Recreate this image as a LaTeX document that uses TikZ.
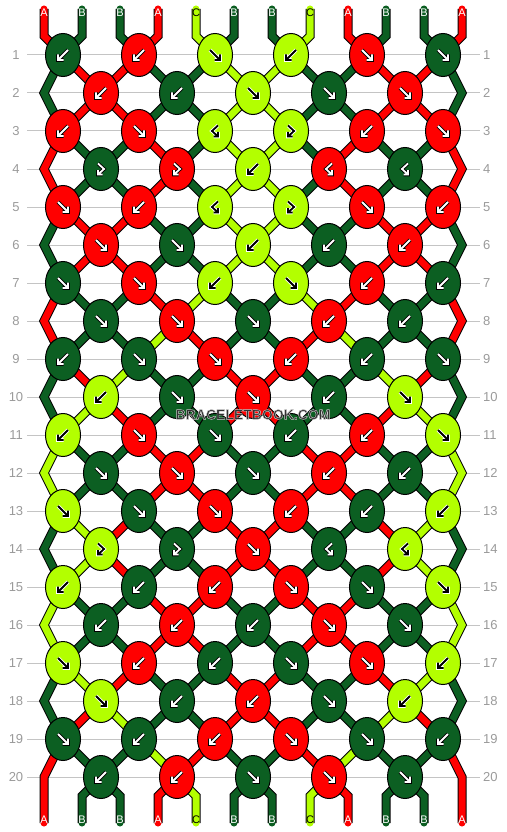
\documentclass[tikz,border=0pt]{standalone}
\usepackage{fontspec}
\setmainfont{Liberation Sans}
\usetikzlibrary{shapes.geometric,backgrounds}

\definecolor{strA}{HTML}{FF0000}
\definecolor{strB}{HTML}{0C5F22}
\definecolor{strC}{HTML}{B3FF00}
\colorlet{inkA}{white}\colorlet{inkB}{white}\colorlet{inkC}{black}
\colorlet{rimA}{black}\colorlet{rimB}{black}\colorlet{rimC}{white}
\definecolor{rowgray}{HTML}{9A9A9A}
\definecolor{linegray}{HTML}{C4C4C4}
\definecolor{wmgray}{HTML}{303030}

\tikzset{
    knot/.style={
        shape=ellipse,
        draw=black,
        line width=1pt,
        minimum width=35pt,
        minimum height=43pt,
        inner sep=0pt
    },
    thread/.style={
        draw=#1,
        line width=7pt,
        line cap=round,
        preaction={draw=black, line width=9pt}
    },
    gridline/.style={draw=linegray, line width=1pt},
    rownum/.style={text=rowgray, inner sep=0pt, font=\fontsize{13}{15}\selectfont},
    endlabel/.style={inner sep=0pt, font=\fontsize{11}{13}\selectfont},
    wmark/.style={inner sep=0pt, font=\fontsize{14}{16}\selectfont\bfseries}
}

% light rim round the watermark letters (fill, then stroke)
\newcommand\rimtext[1]{%
  \special{pdf:literal direct 2 Tr 0.45 w 0.8 G}#1\special{pdf:literal direct 0 Tr}}

% arrow on a knot: 1 forward, 2 backward, 3 forward-backward, 4 backward-forward
\newcommand\knotglyph[4]{%
  \foreach \w/\ink in {3.6/#4,1.8/#3}{%
    \begin{scope}[shift={(#1)}, line width=\w pt, draw=\ink]
      \ifcase#2\or
        \draw (-5,-5) -- (5,5) (5,-0.5) -- (5,5) -- (-0.5,5);
      \or
        \draw (5,-5) -- (-5,5) (-5,-0.5) -- (-5,5) -- (0.5,5);
      \or
        \draw (-3,-5.5) -- (3,0) -- (-3,5.5) (1.5,5.5) -- (-3,5.5) -- (-3,1);
      \or
        \draw (3,-5.5) -- (-3,0) -- (3,5.5) (-1.5,5.5) -- (3,5.5) -- (3,1);
      \fi
    \end{scope}}}

\begin{document}
\begin{tikzpicture}[x=1pt, y=-1pt]
    \useasboundingbox (0,0) rectangle (506,832);

    % rows of knots
    \foreach \r/\row in {
        1/{B/2,A/2,C/1,C/2,A/1,B/1},
        2/{A/2,B/2,C/1,B/1,A/1},
        3/{A/2,A/1,C/4,C/3,A/2,A/1},
        4/{B/3,A/3,C/2,A/4,B/4},
        5/{A/1,A/2,C/4,C/3,A/1,A/2},
        6/{A/1,B/1,C/2,B/2,A/2},
        7/{B/1,A/1,C/2,C/1,A/2,B/2},
        8/{B/1,A/1,B/1,A/2,B/2},
        9/{B/2,B/1,A/1,A/2,B/2,B/1},
        10/{C/2,B/1,A/1,B/2,C/1},
        11/{C/2,A/1,B/1,B/2,A/2,C/1},
        12/{B/1,A/1,B/1,A/2,B/2},
        13/{C/1,B/1,A/1,A/2,B/2,C/2},
        14/{C/3,B/3,A/1,B/4,C/4},
        15/{C/2,B/2,A/2,A/1,B/1,C/1},
        16/{B/2,A/2,B/2,A/1,B/1},
        17/{C/1,A/2,B/2,B/1,A/1,C/2},
        18/{C/1,B/2,A/2,B/1,C/2},
        19/{B/1,B/2,A/2,A/1,B/1,B/2},
        20/{B/2,A/2,B/1,A/1,B/1}} {
        \ifodd\r\relax \def\xo{63}\else \def\xo{101}\fi
        \foreach \c/\t [count=\i] in \row {
            \node[knot, fill=str\c] (k\r-\i) at ({\xo+76*(\i-1)}, {55+38*(\r-1)}) {};
            \knotglyph{k\r-\i}{\t}{ink\c}{rim\c}
        }
        \node[rownum] (rl\r) at (16, {55+38*(\r-1)}) {\r};
        \node[rownum, anchor=west] (rr\r) at (483, {55+38*(\r-1)}) {\r};
    }

    % outer bends and thread ends
    \foreach \r in {2,4,...,20} {
        \coordinate (eL\r) at (44, {55+38*(\r-1)});
        \coordinate (eR\r) at (462, {55+38*(\r-1)});
    }
    \foreach \p in {1,...,12} {
        \coordinate (t\p) at ({44+38*(\p-1)}, 9);
        \coordinate (u\p) at ({44+38*(\p-1)}, 36);
        \coordinate (v\p) at ({44+38*(\p-1)}, 796);
        \coordinate (b\p) at ({44+38*(\p-1)}, 823);
    }

    \begin{pgfonlayer}{background}
        \foreach \r in {1,...,20}
            \draw[gridline] (27, {55+38*(\r-1)}) -- (480, {55+38*(\r-1)});

        % threads entering the first row
        \foreach \c [count=\p] in {A,B,B,A,C,B,B,C,A,B,B,A} {
            \pgfmathtruncatemacro\io{(\p+1)/2}
            \draw[thread=str\c] (t\p) -- (u\p) -- (k1-\io.center);
        }

        % threads between rows
        \foreach \r/\st in {
            1/{B,A,A,B,B,C,C,B,B,A,A,B},
            2/{B,A,A,B,B,C,C,B,B,A,A,B},
            3/{A,B,B,A,B,C,C,B,A,B,B,A},
            4/{A,B,B,A,B,C,C,B,A,B,B,A},
            5/{B,A,A,B,B,C,C,B,B,A,A,B},
            6/{B,A,A,B,B,C,C,B,B,A,A,B},
            7/{A,B,B,A,C,B,B,C,A,B,B,A},
            8/{A,B,B,C,A,B,B,A,C,B,B,A},
            9/{B,A,C,B,B,A,A,B,B,C,A,B},
            10/{B,C,A,B,B,A,A,B,B,A,C,B},
            11/{C,B,B,A,A,B,B,A,A,B,B,C},
            12/{C,B,B,A,A,B,B,A,A,B,B,C},
            13/{B,C,A,B,B,A,A,B,B,A,C,B},
            14/{B,C,A,B,B,A,A,B,B,A,C,B},
            15/{C,B,B,A,A,B,B,A,A,B,B,C},
            16/{C,B,B,A,A,B,B,A,A,B,B,C},
            17/{B,C,A,B,B,A,A,B,B,A,C,B},
            18/{B,A,C,B,B,A,A,B,B,C,A,B},
            19/{A,B,B,C,A,B,B,A,C,B,B,A}} {
            \pgfmathtruncatemacro\rn{\r+1}
            \pgfmathtruncatemacro\rnn{\r+2}
            \foreach \c [count=\p] in \st {
                \pgfmathtruncatemacro\io{(\p+1)/2}
                \pgfmathtruncatemacro\ie{\p/2}
                \ifnum\p=1\relax
                    \ifodd\r\relax
                        \ifnum\r<19\relax
                            \draw[thread=str\c] (k\r-1.center) -- (eL\rn) -- (k\rnn-1.center);
                        \else
                            \draw[thread=str\c] (k\r-1.center) -- (eL\rn) -- (b1);
                        \fi
                    \fi
                \else\ifnum\p=12\relax
                    \ifodd\r\relax
                        \ifnum\r<19\relax
                            \draw[thread=str\c] (k\r-6.center) -- (eR\rn) -- (k\rnn-6.center);
                        \else
                            \draw[thread=str\c] (k\r-6.center) -- (eR\rn) -- (b12);
                        \fi
                    \fi
                \else
                    \ifodd\r\relax
                        \draw[thread=str\c] (k\r-\io.center) -- (k\rn-\ie.center);
                    \else
                        \draw[thread=str\c] (k\r-\ie.center) -- (k\rn-\io.center);
                    \fi
                \fi\fi
            }
        }

        % threads leaving the last row
        \foreach \c [count=\p] in {A,B,B,A,C,B,B,C,A,B,B,A} {
            \pgfmathtruncatemacro\ie{\p/2}
            \ifnum\p>1\relax\ifnum\p<12\relax
                \draw[thread=str\c] (k20-\ie.center) -- (v\p) -- (b\p);
            \fi\fi
        }
    \end{pgfonlayer}

    % thread letters
    \foreach \c [count=\p] in {A,B,B,A,C,B,B,C,A,B,B,A} {
        \node[endlabel, text=ink\c] (lt\p) at (t\p) [yshift=-3.5pt] {\c};
        \node[endlabel, text=ink\c] (lb\p) at (b\p) [yshift=3pt] {\c};
    }

    % watermark
    \node[wmark, text=wmgray] (wm) at (253, 414.5) {\rimtext{BRACELETBOOK.COM}};
\end{tikzpicture}
\end{document}
